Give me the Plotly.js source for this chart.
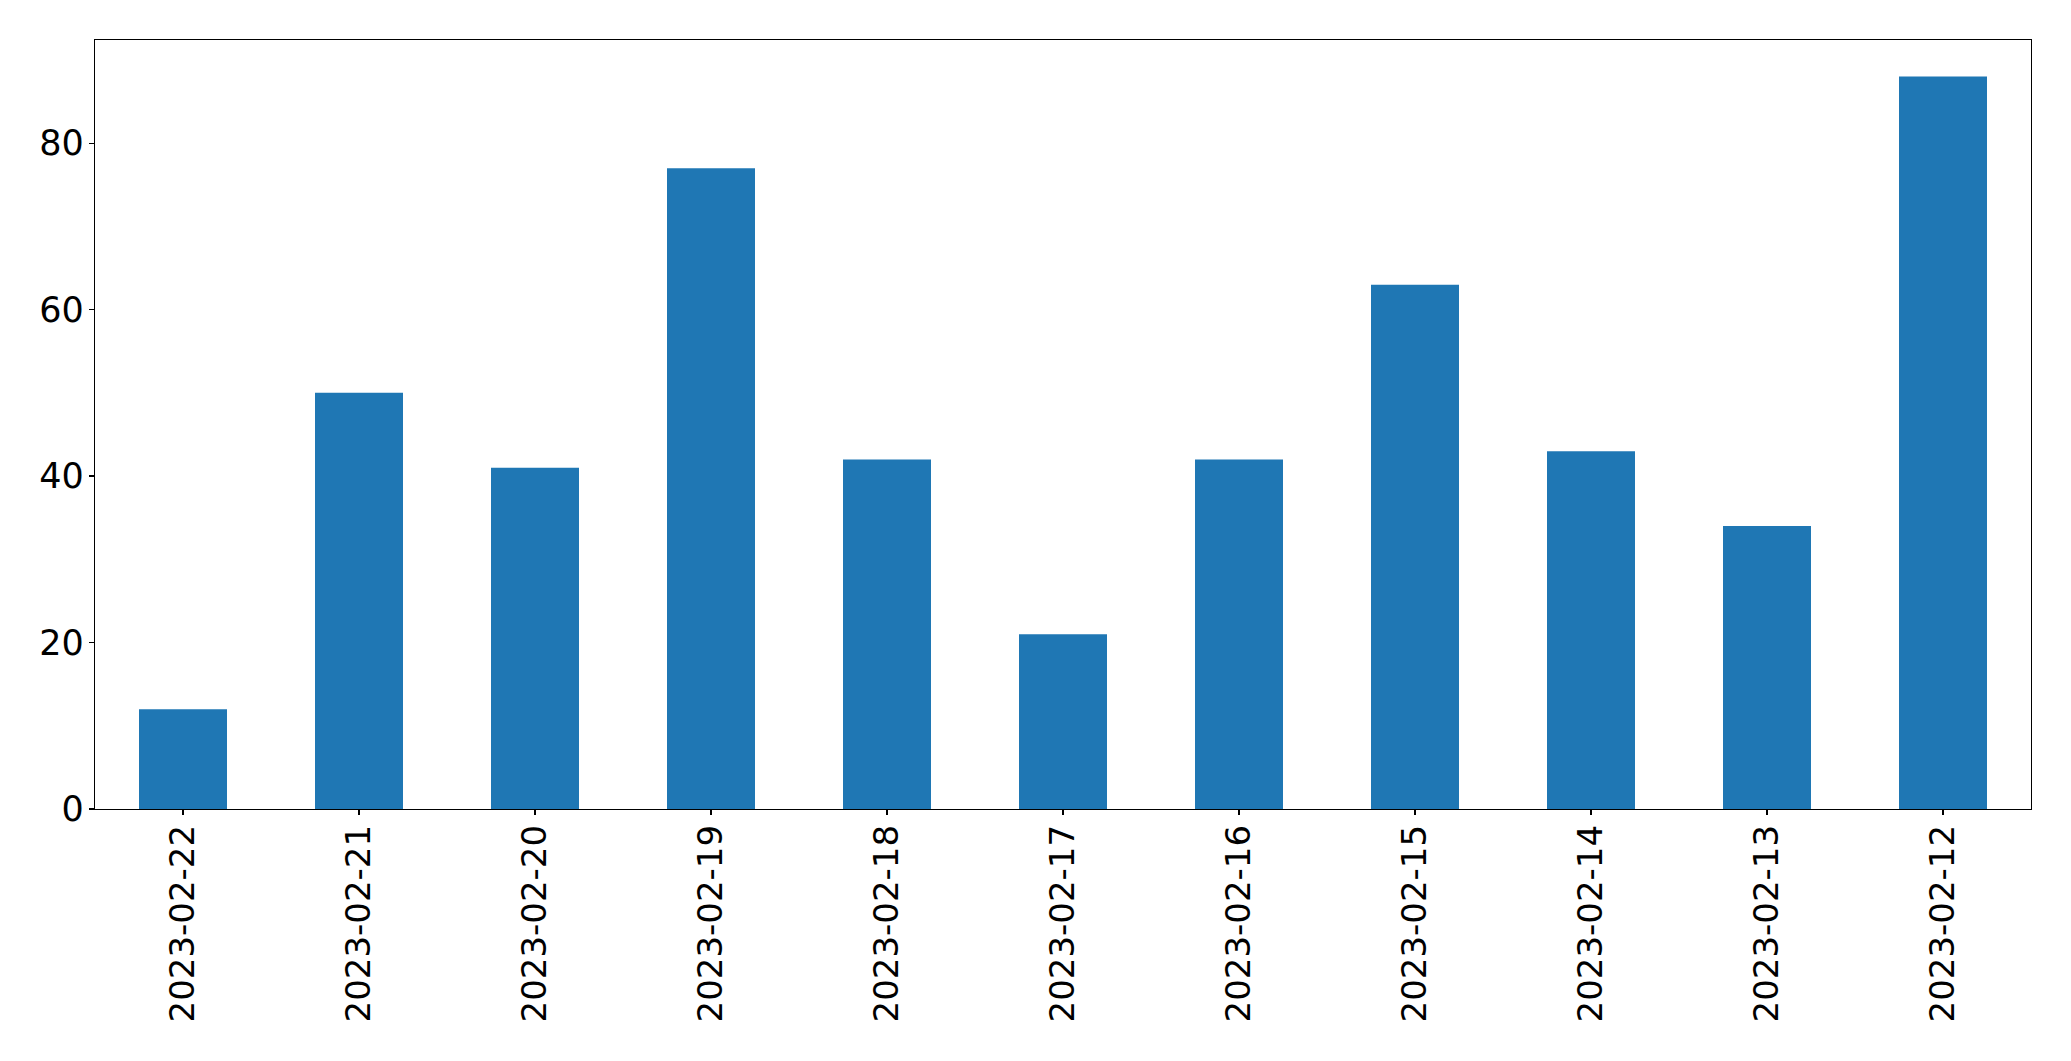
<!DOCTYPE html>
<html>
<head>
<meta charset="utf-8">
<script src="https://cdn.plot.ly/plotly-3.0.1.min.js"></script>
<style>html,body{margin:0;padding:0;background:#fff;}</style>
</head>
<body>
<div id="chart" style="width:2071px;height:1061px;"></div>
<script>
const dates = ["2023-02-22","2023-02-21","2023-02-20","2023-02-19","2023-02-18","2023-02-17","2023-02-16","2023-02-15","2023-02-14","2023-02-13","2023-02-12"];
const counts = [12, 50, 41, 77, 42, 21, 42, 63, 43, 34, 88];
const yTicks = [0, 20, 40, 60, 80];

const trace = {
  type: 'bar',
  x: dates,
  y: counts,
  width: 0.5,
  marker: {color: '#1f77b4', line: {width: 0}},
  hoverinfo: 'x+y'
};

const layout = {
  width: 2071,
  height: 1061,
  margin: {l: 94.5, r: 39.5, t: 39.5, b: 252, pad: 0},
  paper_bgcolor: '#ffffff',
  plot_bgcolor: '#ffffff',
  showlegend: false,
  font: {family: 'DejaVu Sans', color: '#000000', size: 34},
  xaxis: {
    type: 'category',
    range: [-0.5, dates.length - 0.5],
    tickangle: -90,
    ticks: 'outside',
    ticklen: 5,
    tickwidth: 1.3,
    tickcolor: '#000',
    showline: true,
    linecolor: '#000',
    linewidth: 1.3,
    mirror: true,
    showgrid: false,
    zeroline: false,
    tickfont: {family: 'DejaVu Sans', size: 34, color: '#000'},
    ticklabelstandoff: -4
  },
  yaxis: {
    range: [0, Math.max(...counts) * 1.05],
    tickvals: yTicks,
    ticktext: yTicks.map(String),
    ticks: 'outside',
    ticklen: 5,
    tickwidth: 1.3,
    tickcolor: '#000',
    showline: true,
    linecolor: '#000',
    linewidth: 1.3,
    mirror: true,
    showgrid: false,
    zeroline: false,
    tickfont: {family: 'DejaVu Sans', size: 35, color: '#000'},
    ticklabelstandoff: -2
  }
};

Plotly.newPlot('chart', [trace], layout, {displayModeBar: false, staticPlot: true});
</script>
</body>
</html>
